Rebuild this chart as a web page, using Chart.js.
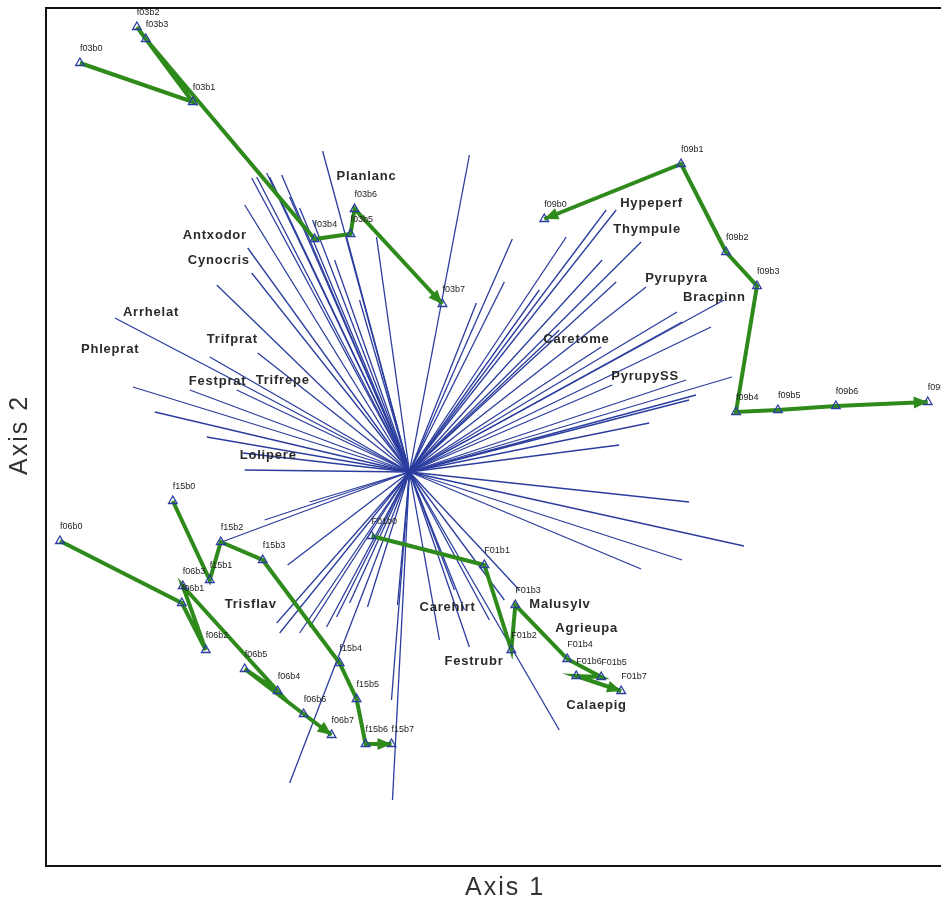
<!DOCTYPE html>
<html>
<head>
<meta charset="utf-8">
<script src="https://cdn.jsdelivr.net/npm/chart.js@4"></script>
<style>
  html, body { margin: 0; padding: 0; background: #fff; overflow: hidden; }
  #wrap { position: relative; width: 950px; height: 906px; }
</style>
</head>
<body>
<div id="wrap"><canvas id="myChart"></canvas></div>
<script>
// species vectors (tips, axis units; all start at the origin)
let vecX = [-0.87, -1.58, -1.53, -1.43, -1.40, -1.28, -1.65, -1.20, -1.10, -0.97, -1.62, -1.58, -1.93, -2.95, -2.00, -1.52,
    -2.77, -2.55, -2.20, -1.73, -2.03, -1.67, -0.33, -0.63, 0.60, -0.75, -0.50,
    1.03, 0.95, 0.67, 1.57, 1.97, 2.07, 1.93, 2.07, 2.32, 2.37, 2.68, 3.15, 3.02, 2.73, 1.92, 3.23, 2.77, 2.87, 2.80, 2.40, 2.10, 2.03, 1.50, 1.30,
    2.80, 3.35, 2.73, 2.32, 1.50, 0.60, 0.45, 0.80, 0.95, 1.10, 0.55, 0.30,
    -0.17, -0.18, -1.20, -0.12,
    -1.22, -1.33, -1.30, -1.10, -1.00, -0.83, -0.73, -0.60, -0.42, -1.00, -1.88, -1.65, -1.45];
let vecY = [3.21, 2.94, 2.95, 2.99, 2.95, 2.97, 2.67, 2.75, 2.64, 2.52, 2.24, 1.99, 1.87, 1.54, 1.15, 1.19,
    0.85, 0.60, 0.82, 0.82, 0.35, 0.19, 2.35, 2.35, 3.17, 2.12, 1.72,
    2.33, 1.90, 1.69, 2.35, 2.62, 2.62, 2.12, 1.90, 2.30, 1.85, 1.60, 1.72, 1.45, 1.50, 1.25, 0.95, 0.92, 0.77, 0.72, 0.49, 0.27, 0.87, 1.42, 1.82,
    -0.30, -0.74, -0.88, -0.97, -2.58, -1.75, -1.18, -1.48, -1.28, -1.18, -1.38, -1.68,
    -3.28, -2.28, -3.11, -1.33,
    -0.93, -1.51, -1.61, -1.61, -1.55, -1.55, -1.45, -1.31, -1.35, -0.30, -0.70, 0.02, -0.48];

let species = ["Planlanc", "Antxodor", "Cynocris", "Arrhelat", "Phleprat", "Trifprat", "Festprat", "Trifrepe", "Lolipere",
    "Hypeperf", "Thympule", "Pyrupyra", "Bracpinn", "Caretome", "PyrupySS",
    "Trisflav", "Carehirt", "Festrubr", "Malusylv", "Agrieupa", "Calaepig"];
let speciesX = [-0.73, -2.27, -2.22, -2.87, -3.29, -2.03, -2.21, -1.54, -1.70,
    2.11, 2.04, 2.36, 2.74, 1.34, 2.02,
    -1.85, 0.10, 0.35, 1.20, 1.46, 1.57];
let speciesY = [2.96, 2.37, 2.12, 1.60, 1.23, 1.33, 0.91, 0.92, 0.17,
    2.69, 2.43, 1.94, 1.75, 1.33, 0.96,
    -1.32, -1.35, -1.89, -1.32, -1.56, -2.33];

// plot trajectories, years b0..b7
let plots = ["f03", "f09", "f06", "f15", "F01"];
let f03X = [-3.30, -2.17, -2.73, -2.64, -0.95, -0.59, -0.55, 0.33];
let f03Y = [4.09, 3.70, 4.45, 4.33, 2.33, 2.38, 2.63, 1.68];
let f09X = [1.35, 2.72, 3.17, 3.48, 3.27, 3.69, 4.27, 5.19];
let f09Y = [2.53, 3.08, 2.20, 1.86, 0.60, 0.62, 0.66, 0.70];
let f06X = [-3.50, -2.28, -2.04, -2.27, -1.32, -1.65, -1.06, -0.78];
let f06Y = [-0.69, -1.31, -1.78, -1.14, -2.19, -1.97, -2.42, -2.63];
let f15X = [-2.37, -2.00, -1.89, -1.47, -0.70, -0.53, -0.44, -0.18];
let f15Y = [-0.29, -1.08, -0.70, -0.88, -1.91, -2.27, -2.72, -2.72];
let F01X = [-0.38, 0.75, 1.02, 1.06, 1.58, 1.92, 1.67, 2.12];
let F01Y = [-0.64, -0.93, -1.78, -1.33, -1.87, -2.05, -2.04, -2.19];
let trajX = [f03X, f09X, f06X, f15X, F01X];
let trajY = [f03Y, f09Y, f06Y, f15Y, F01Y];

const blue = "#2b3d9e";
const green = "#2f8a1c";

let datasets = [];
for (let i = 0; i < vecX.length; i++) {
    datasets.push({
        data: [{ x: 0, y: 0 }, { x: vecX[i], y: vecY[i] }],
        showLine: true,
        borderColor: blue,
        borderWidth: 1.3,
        pointRadius: 0,
        order: 2
    });
}
for (let t = 0; t < plots.length; t++) {
    datasets.push({
        label: plots[t],
        data: trajX[t].map((x, j) => ({ x: x, y: trajY[t][j] })),
        showLine: true,
        borderColor: green,
        borderWidth: 4,
        pointStyle: "triangle",
        pointRadius: 5,
        pointBorderColor: blue,
        pointBorderWidth: 1.3,
        pointBackgroundColor: "rgba(255,255,255,0)",
        order: 1
    });
}

function arrow(ctx, x0, y0, x1, y1) {
    const a = Math.atan2(y1 - y0, x1 - x0);
    const L = 14, W = 6;
    ctx.save();
    ctx.fillStyle = green;
    ctx.beginPath();
    ctx.moveTo(x1, y1);
    ctx.lineTo(x1 - L * Math.cos(a) + W * Math.sin(a), y1 - L * Math.sin(a) - W * Math.cos(a));
    ctx.lineTo(x1 - L * Math.cos(a) - W * Math.sin(a), y1 - L * Math.sin(a) + W * Math.cos(a));
    ctx.closePath();
    ctx.fill();
    ctx.restore();
}

const decor = {
    id: "decor",
    afterDatasetsDraw(chart) {
        const ctx = chart.ctx;
        const xs = chart.scales.x, ys = chart.scales.y;
        const px = v => xs.getPixelForValue(v), py = v => ys.getPixelForValue(v);
        // arrowheads
        for (let t = 0; t < plots.length; t++) {
            const X = trajX[t], Y = trajY[t], n = X.length;
            arrow(ctx, px(X[n - 2]), py(Y[n - 2]), px(X[n - 1]), py(Y[n - 1]));
        }
        arrow(ctx, px(f09X[1]), py(f09Y[1]), px(f09X[0]), py(f09Y[0]));
        // plot labels
        ctx.save();
        ctx.fillStyle = "#222";
        ctx.font = "9px 'Liberation Sans'";
        ctx.textBaseline = "middle";
        for (let t = 0; t < plots.length; t++) {
            for (let j = 0; j < trajX[t].length; j++) {
                ctx.fillText(plots[t] + "b" + j, px(trajX[t][j]), py(trajY[t][j]) - 14);
            }
        }
        // species labels
        ctx.font = "bold 13px 'Liberation Sans'";
        ctx.letterSpacing = "0.8px";
        ctx.fillStyle = "#2a2a2a";
        for (let i = 0; i < species.length; i++) {
            ctx.fillText(species[i], px(speciesX[i]), py(speciesY[i]));
        }
        ctx.restore();
        // frame
        const a = chart.chartArea;
        ctx.save();
        ctx.strokeStyle = "#111";
        ctx.lineWidth = 2;
        ctx.strokeRect(a.left, a.top, a.right - a.left, a.bottom - a.top);
        ctx.restore();
        // axis titles
        ctx.save();
        ctx.fillStyle = "#333";
        ctx.font = "25px 'Liberation Sans'";
        ctx.letterSpacing = "2px";
        ctx.textAlign = "center";
        ctx.textBaseline = "middle";
        ctx.fillText("Axis 1", 505, 888);
        ctx.translate(20, 435);
        ctx.rotate(-Math.PI / 2);
        ctx.fillText("Axis 2", 0, 0);
        ctx.restore();
    }
};

new Chart("myChart", {
    type: "scatter",
    data: { datasets: datasets },
    options: {
        responsive: true,
        maintainAspectRatio: false,
        animation: false,
        layout: { padding: { left: 46, top: 8, right: 5, bottom: 40 } },
        plugins: { legend: { display: false }, tooltip: { enabled: false } },
        scales: {
            x: { type: "linear", min: -3.64, max: 5.35, display: false },
            y: { type: "linear", min: -3.94, max: 4.64, display: false }
        }
    },
    plugins: [decor]
});
</script>
</body>
</html>
